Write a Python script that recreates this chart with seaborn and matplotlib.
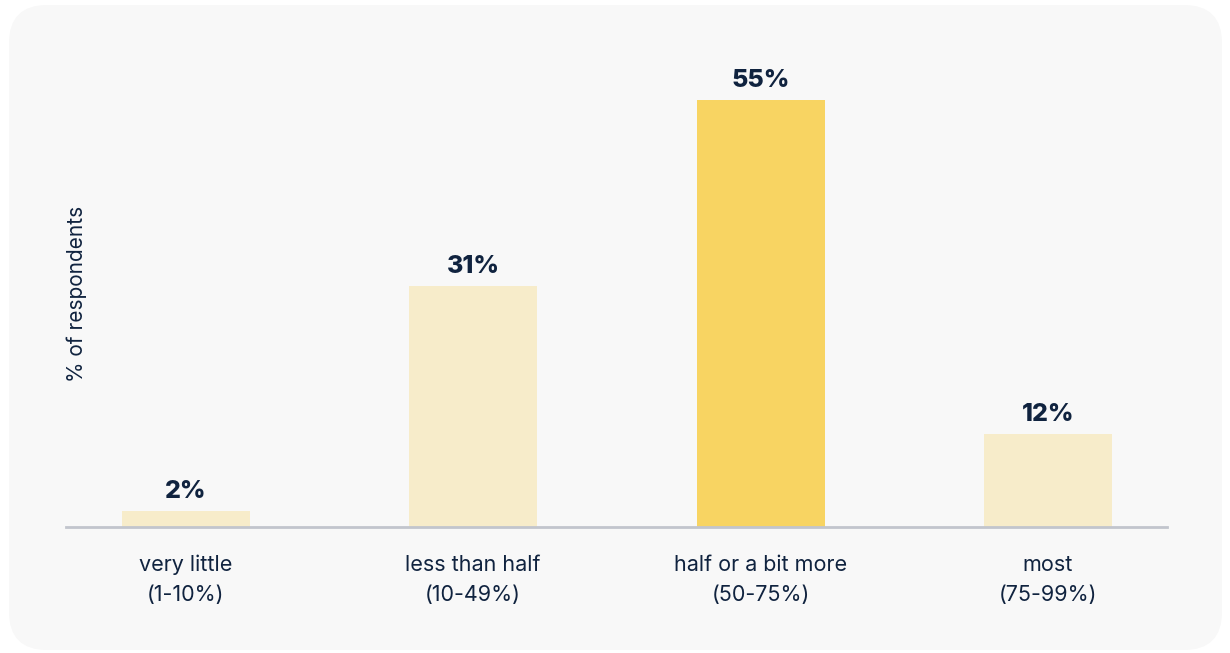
import matplotlib
matplotlib.use("Agg")
import matplotlib.pyplot as plt
from matplotlib.patches import FancyBboxPatch
import seaborn as sns
import pandas as pd

categories = ["very little\n(1-10%)", "less than half\n(10-49%)",
              "half or a bit more\n(50-75%)", "most\n(75-99%)"]
values = [2, 31, 55, 12]
value_labels = ["2%", "31%", "55%", "12%"]
bar_colors = ["#f7ecca", "#f7ecca", "#f8d462", "#f7ecca"]

TEXT = "#10233f"

sns.set_theme(style="white")
plt.rcParams["font.family"] = ["Inter", "DejaVu Sans"]

W, H = 1230, 653
fig = plt.figure(figsize=(12.3, 6.53), dpi=100)
fig.patch.set_facecolor("white")

# background panel in pixel coordinates
bgax = fig.add_axes([0, 0, 1, 1], zorder=-10)
bgax.set_xlim(0, W)
bgax.set_ylim(0, H)
bgax.axis("off")
bgax.add_patch(FancyBboxPatch((9, 3), 1222 - 9, 648 - 3,
                              boxstyle="round,pad=0,rounding_size=38",
                              facecolor="#f8f8f8", edgecolor="none"))

ax = fig.add_axes([66 / W, (653 - 527) / H, (1167 - 66) / W, (527 - 61.4) / H])
ax.set_facecolor("none")

df = pd.DataFrame({"cat": categories, "val": values})
sns.barplot(data=df, x="cat", y="val", hue="cat", palette=bar_colors,
            legend=False, width=0.445, ax=ax, saturation=1, linewidth=0,
            edgecolor="none")

for i, (v, lab) in enumerate(zip(values, value_labels)):
    ax.annotate(lab, (i, v), xytext=(0, 6), textcoords="offset points",
                ha="center", va="bottom", fontsize=18, fontweight="heavy",
                color=TEXT)

ax.set_ylim(0, 60)
ax.set_xlim(-0.417, 3.414)
ax.set_yticks([])
ax.set_xlabel("")
ax.set_ylabel("% of respondents", fontsize=15, color=TEXT)
ax.yaxis.set_label_coords(0.019, 0.5)
ax.tick_params(axis="x", length=0, pad=20, labelsize=15.5, labelcolor=TEXT)
for lab in ax.get_xticklabels():
    lab.set_linespacing(1.62)
for s in ["top", "right", "left"]:
    ax.spines[s].set_visible(False)
ax.spines["bottom"].set_color("#c2c5cd")
ax.spines["bottom"].set_linewidth(2)

fig.savefig("out.png", dpi=100, facecolor=fig.get_facecolor())
